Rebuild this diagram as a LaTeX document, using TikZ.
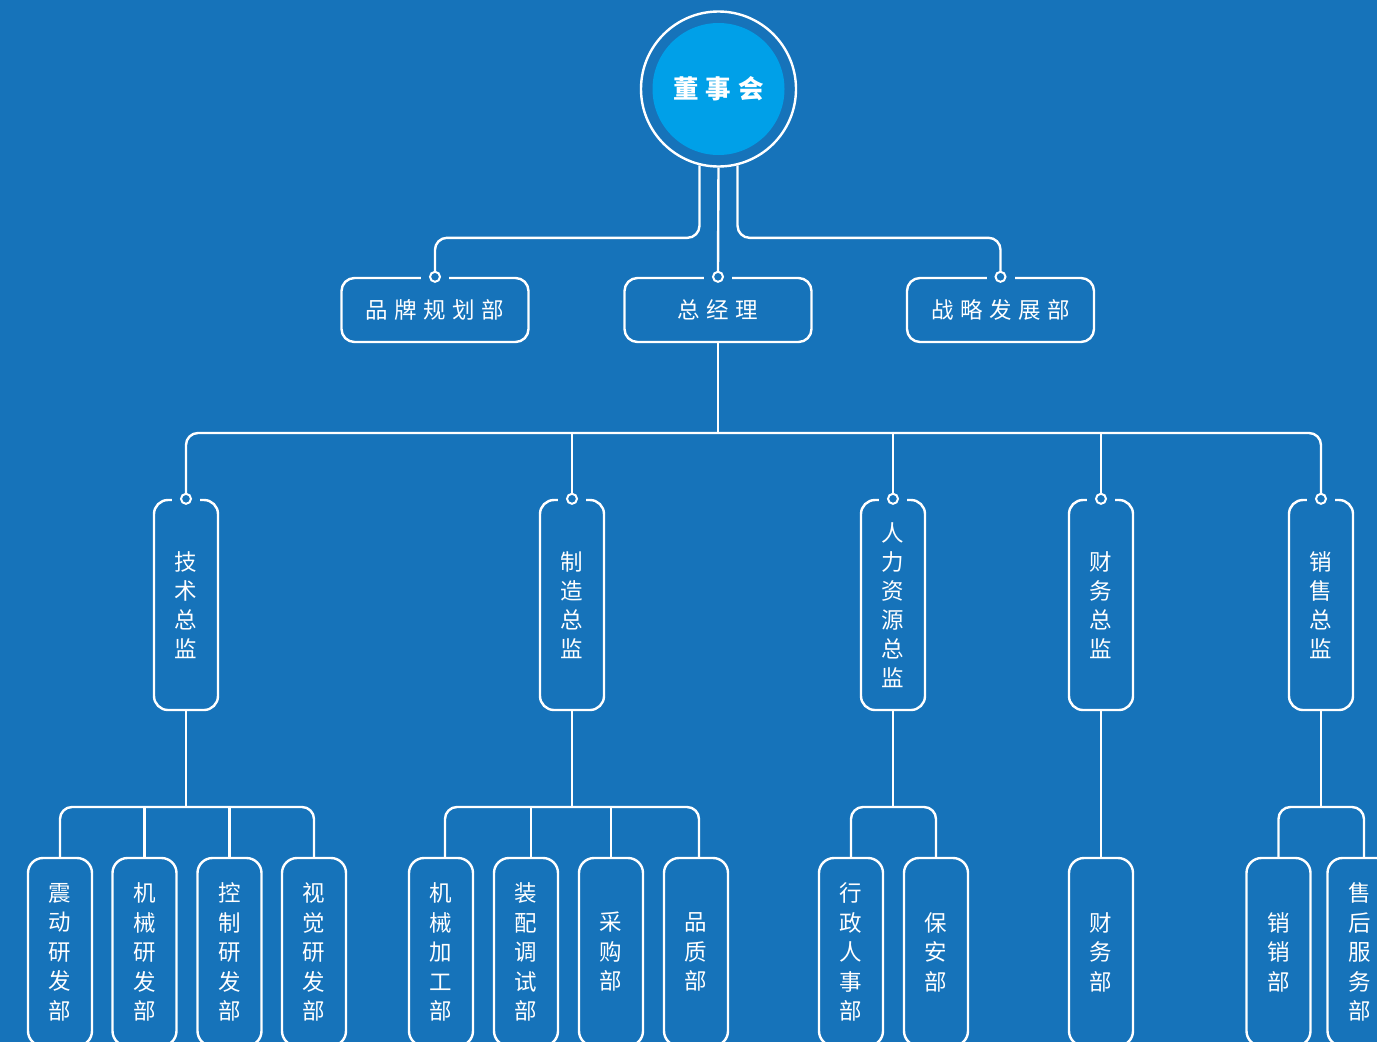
\documentclass[tikz,border=0pt]{standalone}
\usepackage{fontspec}
\newfontfamily\cjk{Noto Sans CJK SC}
\usetikzlibrary{calc}
\definecolor{bg}{RGB}{22,115,186}
\definecolor{core}{RGB}{0,160,232}
\newcommand\ls{\hspace{6.5pt}}
\tikzset{
  line/.style={draw=white, line width=2.4pt},
  conn/.style={line, rounded corners=12pt},
  hbox/.style={line, rounded corners=13pt, minimum width=187pt, minimum height=64pt,
    inner sep=0pt, text=white, font=\cjk\fontsize{22.5}{26}\selectfont},
  dirbox/.style={line, rounded corners=14pt, minimum width=64pt, minimum height=210pt,
    inner sep=0pt, align=center, text=white, font=\cjk\fontsize{22.5}{29}\selectfont},
  deptbox/.style={line, rounded corners=15pt, minimum width=64pt, minimum height=188pt,
    inner sep=0pt, align=center, text=white, font=\cjk\fontsize{22.5}{29.5}\selectfont},
  junc/.style={circle, draw=white, fill=bg, line width=2pt, minimum size=10pt, inner sep=0pt},
}
% opens a gap in the top border of a box where the junction sits
\newcommand\topgap[1]{\fill[bg] ($(#1.north)+(-14pt,-3pt)$) rectangle ($(#1.north)+(14pt,3pt)$);}
\begin{document}
\begin{tikzpicture}[x=1pt,y=1pt]
\fill[bg] (0,0) rectangle (1377,-1042);
\useasboundingbox (0,0) rectangle (1377,-1042);

% board
\node[circle, line, fill=bg, minimum size=155pt, inner sep=0pt] (board) at (718.5,-89) {};
\node[circle, fill=core, minimum size=132pt, inner sep=0pt, text=white,
      font=\cjk\bfseries\fontsize{25.5}{30}\selectfont] (boardcore) at (board.center) {董\hspace{7pt}事\hspace{7pt}会};

% second level
\node[hbox] (brand) at (435,-310) {品\ls 牌\ls 规\ls 划\ls 部};
\node[hbox] (gm) at (718,-310) {总\ls 经\ls 理};
\node[hbox] (strat) at (1000.5,-310) {战\ls 略\ls 发\ls 展\ls 部};

% directors
\node[dirbox] (tech) at (186,-605) {技\\术\\总\\监};
\node[dirbox] (manu) at (572,-605) {制\\造\\总\\监};
\node[dirbox] (hr) at (893,-605) {人\\力\\资\\源\\总\\监};
\node[dirbox] (fin) at (1101,-605) {财\\务\\总\\监};
\node[dirbox] (sales) at (1321,-605) {销\\售\\总\\监};

% departments
\node[deptbox] (t1) at (60,-952) {震\\动\\研\\发\\部};
\node[deptbox] (t2) at (144.5,-952) {机\\械\\研\\发\\部};
\node[deptbox] (t3) at (229.5,-952) {控\\制\\研\\发\\部};
\node[deptbox] (t4) at (314,-952) {视\\觉\\研\\发\\部};
\node[deptbox] (m1) at (441,-952) {机\\械\\加\\工\\部};
\node[deptbox] (m2) at (526,-952) {装\\配\\调\\试\\部};
\node[deptbox] (m3) at (611,-952) {采\\购\\部};
\node[deptbox] (m4) at (696,-952) {品\\质\\部};
\node[deptbox] (h1) at (851,-952) {行\\政\\人\\事\\部};
\node[deptbox] (h2) at (936,-952) {保\\安\\部};
\node[deptbox] (f1) at (1101,-952) {财\\务\\部};
\node[deptbox] (s1) at (1278.5,-952) {销\\销\\部};
\node[deptbox] (s2) at (1359.5,-952) {售\\后\\服\\务\\部};

% gaps and junction rings
\foreach \n in {brand,gm,strat,tech,manu,hr,fin,sales} {\topgap{\n}}
\foreach \n in {brand,gm,strat,tech,manu,hr,fin,sales} {\node[junc] (j\n) at (\n.north) {};}

% board to second level
\draw[conn] (board.256) |- ($(jbrand.north)+(0,33)$) -- (jbrand.north);
\draw[line] (board.south) -- (jgm.north);
\draw[conn] (board.284) |- ($(jstrat.north)+(0,33)$) -- (jstrat.north);

% general manager to directors
\coordinate (dbus) at (718,-433);
\draw[line] (gm.south) -- (dbus);
\draw[conn] (jtech.north) |- (jsales.north |- dbus) -- (jsales.north);
\foreach \n in {manu,hr,fin} {\draw[line] (j\n.north) -- (j\n.north |- dbus);}

% directors to departments
\coordinate (tbus) at (186,-807);
\draw[line] (tech.south) -- (tbus);
\draw[conn] (t1.north) |- (t4.north |- tbus) -- (t4.north);
\draw[line] (t2.north) -- (t2.north |- tbus);
\draw[line] (t3.north) -- (t3.north |- tbus);

\coordinate (mbus) at (572,-807);
\draw[line] (manu.south) -- (mbus);
\draw[conn] ([xshift=4pt]m1.north) |- ([xshift=3pt]m4.north |- mbus) -- ([xshift=3pt]m4.north);
\draw[line] ([xshift=5pt]m2.north) -- ([xshift=5pt]m2.north |- mbus);
\draw[line] (m3.north) -- (m3.north |- mbus);

\coordinate (hbus) at (893,-807);
\draw[line] (hr.south) -- (hbus);
\draw[conn] (h1.north) |- (h2.north |- hbus) -- (h2.north);

\draw[line] (fin.south) -- (f1.north);

\coordinate (sbus) at (1321,-807);
\draw[line] (sales.south) -- (sbus);
\draw[conn] (s1.north) |- ([xshift=4.5pt]s2.north |- sbus) -- ([xshift=4.5pt]s2.north);
\end{tikzpicture}
\end{document}
